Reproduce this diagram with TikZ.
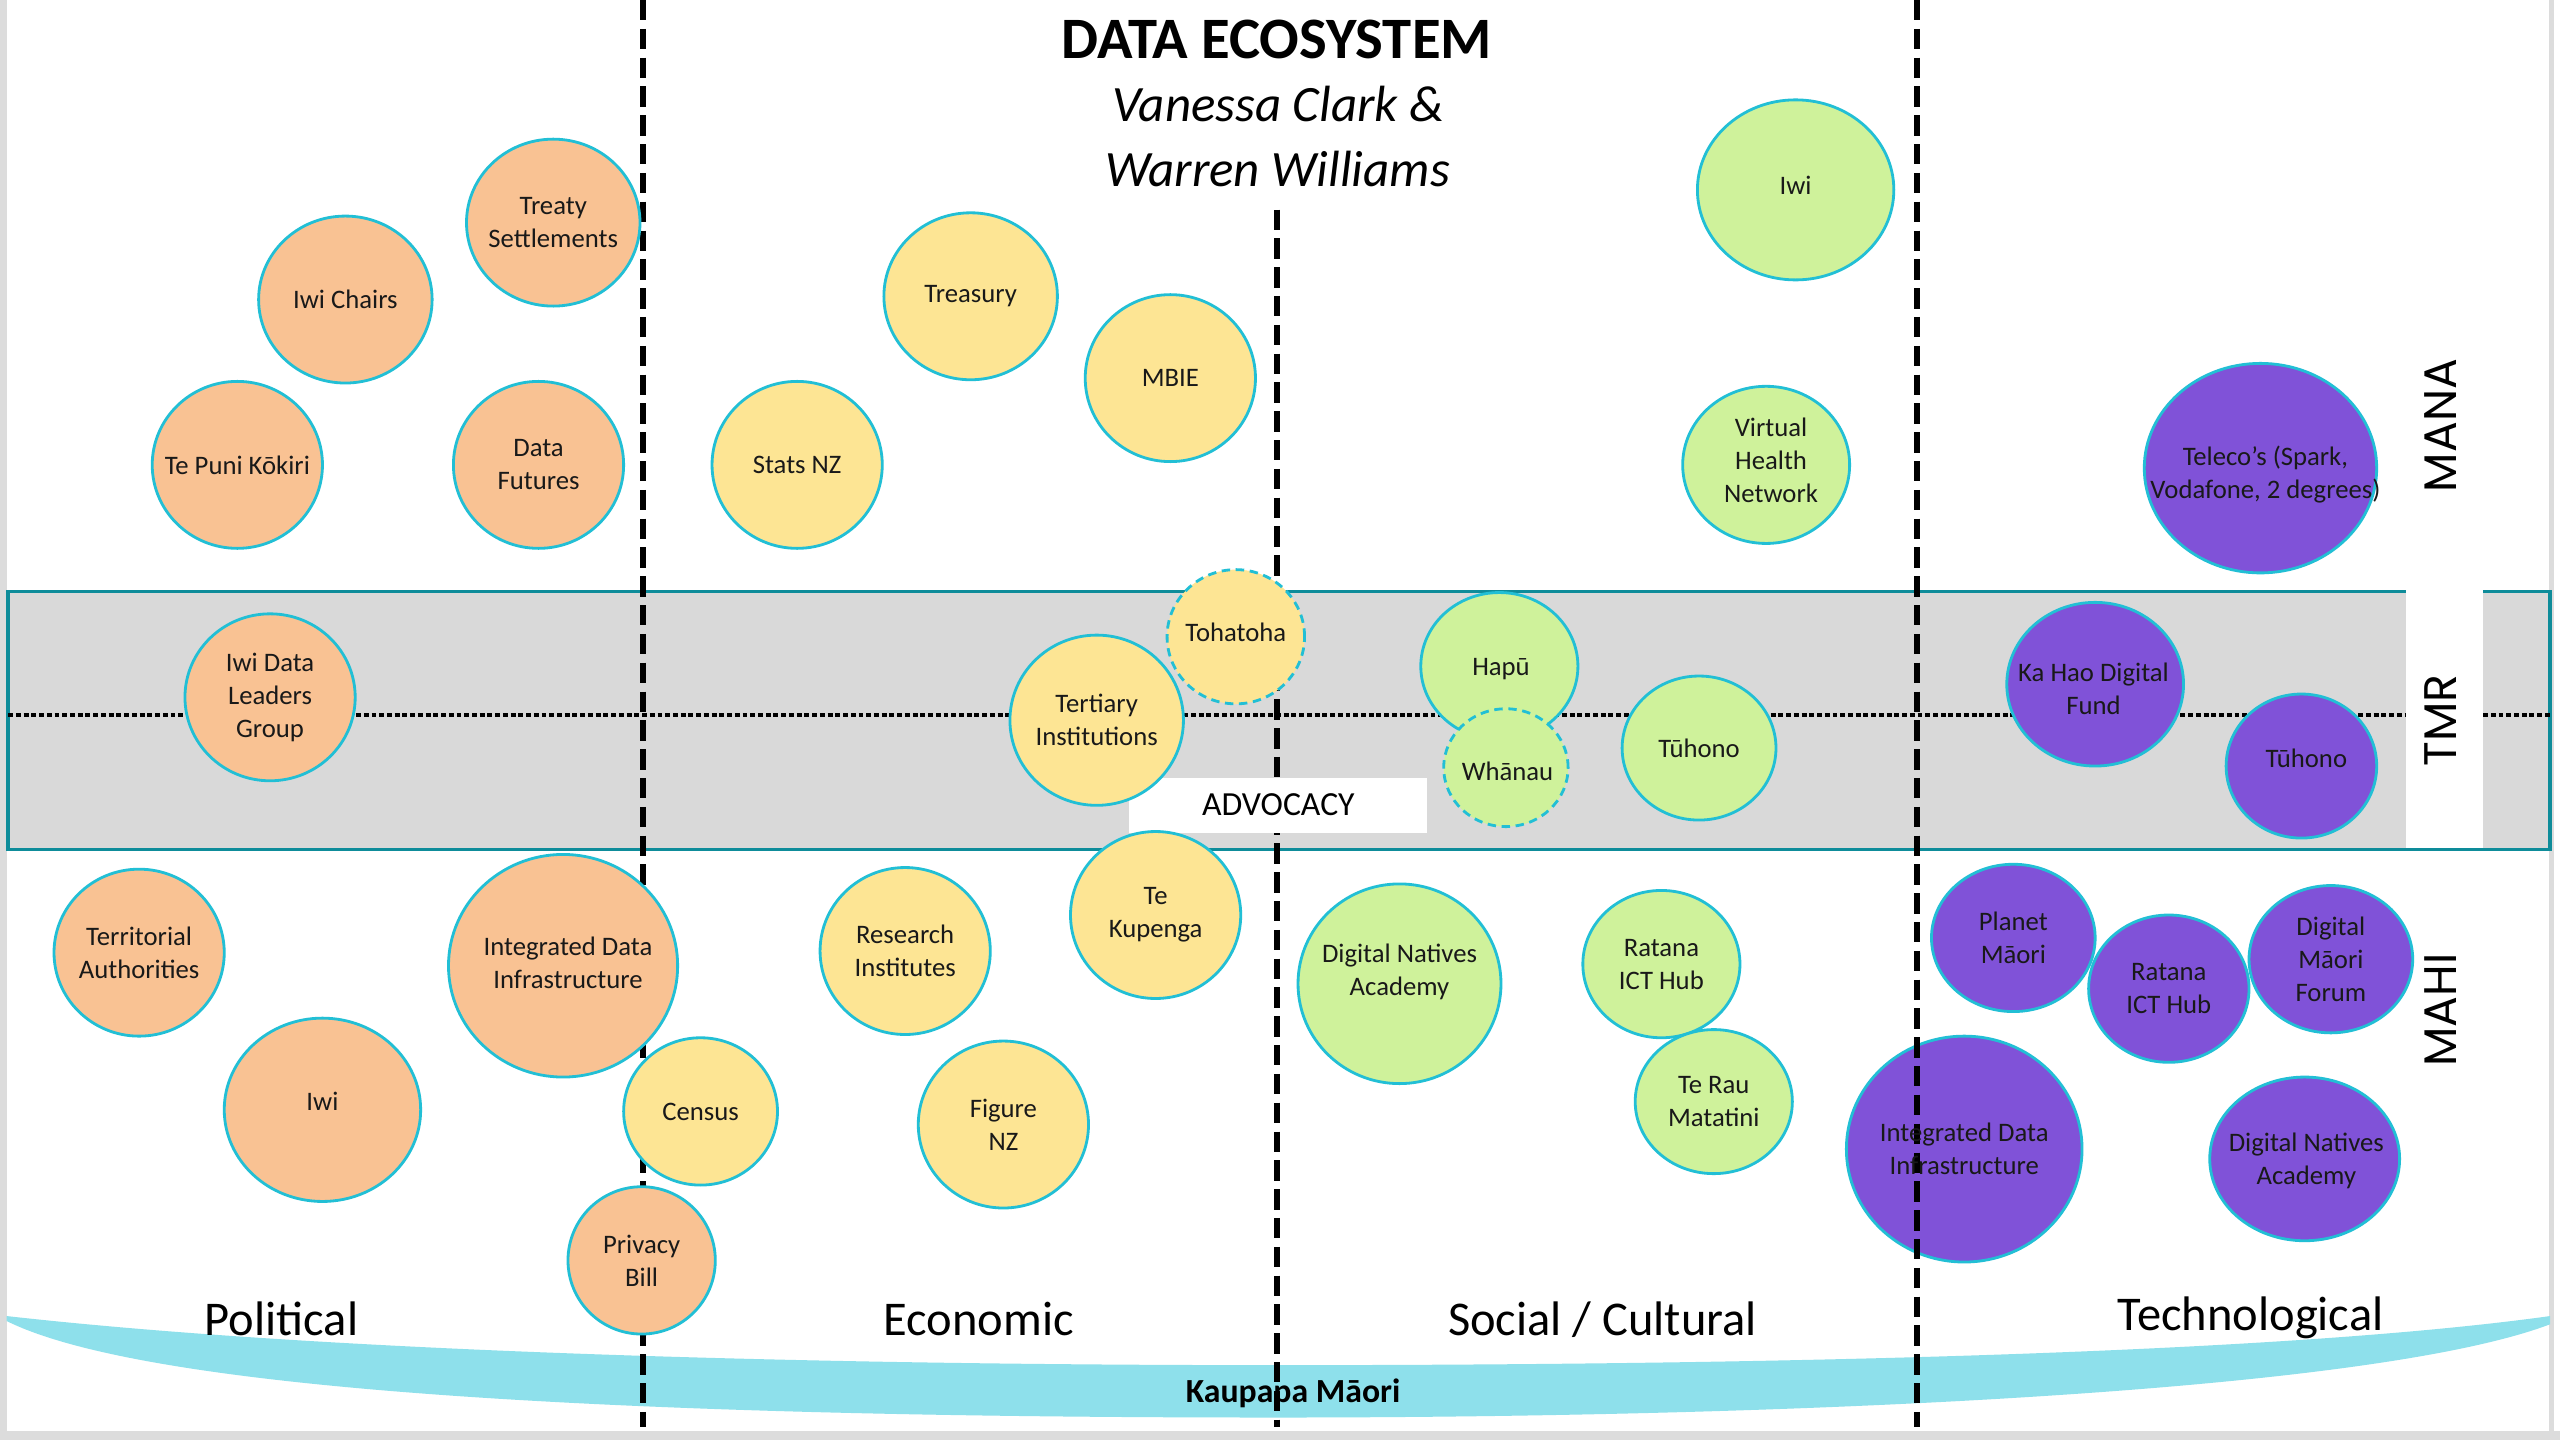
\documentclass[tikz,border=0pt]{standalone}
\usepackage{fontspec}
\setmainfont{Carlito}
\newfontfamily\sidefont{Poppins}
\usetikzlibrary{shapes.geometric}
\definecolor{orng}{HTML}{F9C293}
\definecolor{yel}{HTML}{FDE594}
\definecolor{grn}{HTML}{CFF29B}
\definecolor{purp}{HTML}{8052D8}
\definecolor{bubline}{HTML}{22BFD5}
\definecolor{bandline}{HTML}{0E8C9A}
\definecolor{bandgray}{HTML}{D9D9D9}
\definecolor{kaupapa}{HTML}{8EE0EB}
\definecolor{framegray}{HTML}{DCDCDC}
\tikzset{
  bub/.style={ellipse, draw=bubline, line width=0.8pt, inner sep=0pt},
  po/.style={fill=orng}, ye/.style={fill=yel}, gr/.style={fill=grn}, pu/.style={fill=purp},
  dsh/.style={dash pattern=on 2.4pt off 1.6pt},
  lbl/.style={align=center, font=\fontsize{7.6}{9.4}\selectfont, text=black!90, inner sep=0pt},
  vline/.style={line width=1.6pt, dash pattern=on 5.8pt off 2.4pt},
  hdots/.style={line width=1.2pt, dash pattern=on 1.4pt off 0.8pt},
  cat/.style={anchor=base, font=\fontsize{13.8}{13.8}\selectfont, inner sep=0pt},
  side/.style={rotate=90, font=\sidefont\fontsize{13}{13}\selectfont, inner sep=0pt},
}
\newcommand{\bub}[6]{\node[bub,#2,minimum width={2*#5*0.016368cm},minimum height={2*#6*0.016368cm}] (#1) at (#3,#4) {};}
\newcommand{\blab}[2]{\node[lbl] (#1-t) at (#1) {#2};}
\begin{document}
\begin{tikzpicture}[x=0.016368cm, y=-0.016368cm]
\useasboundingbox (0,0) rectangle (1564,879.75);
% frame
\fill[framegray] (0,0) rectangle (1564,879.75);
\fill[white] (4,0) rectangle (1557.5,874);
\fill[white] (1560,0) rectangle (1564,874);
% TMR band
\draw[fill=bandgray, draw=bandline, line width=1pt] (5,361.5) rectangle (1558,519);
\fill[white] (1470,359.5) rectangle (1517,518);
\draw[hdots] (5,437) -- (1470,437);
\draw[hdots] (1517,437) -- (1558,437);
% Kaupapa band
\fill[kaupapa] (4,804) .. controls (200,826) and (500,834) .. (780,834)
  .. controls (1100,834) and (1400,826) .. (1558,804) -- (1558,809)
  .. controls (1450,850) and (1100,866) .. (780,866)
  .. controls (450,866) and (100,855) .. (4,807) -- cycle;
% left and middle dividers
\coordinate (l1) at (393,0); \coordinate (l2) at (393,872);
\coordinate (m1) at (780,128); \coordinate (m2) at (780,872);
\coordinate (r1) at (1171,0); \coordinate (r2) at (1171,872);
\draw[vline] (l1) -- (l2);
\draw[vline] (m1) -- (m2);
% advocacy box
\node[fill=white, minimum width={182*0.016368cm}, minimum height={34*0.016368cm}, inner sep=0pt] (advbox) at (781,492) {};
% bubbles
\bub{ts}{po}{338}{136}{53}{51}
\bub{ic}{po}{211}{183}{53}{51}
\bub{tpk}{po}{145}{284}{52}{51}
\bub{df}{po}{329}{284}{52}{51}
\bub{idl}{po}{165}{426}{52}{51}
\bub{ta}{po}{85}{582}{52}{51}
\bub{idio}{po}{344}{590}{70}{68}
\bub{iwio}{po}{197}{678}{60}{56}
\bub{cen}{ye}{428}{679}{47}{45}
\bub{pb}{po}{392}{770}{45}{45}
\bub{tre}{ye}{593}{181}{53}{51}
\bub{mbie}{ye}{715}{231}{52}{51}
\bub{snz}{ye}{487}{284}{52}{51}
\bub{toh}{ye,dsh}{755}{389}{42}{41}
\bub{ter}{ye}{670}{440}{53}{52}
\bub{tk}{ye}{706}{559}{52}{51}
\bub{ri}{ye}{553}{581}{52}{51}
\bub{fnz}{ye}{613}{687}{52}{51}
\bub{iwig}{gr}{1097}{116}{60}{55}
\bub{vhn}{gr}{1079}{284}{51}{48}
\bub{hapu}{gr}{916}{407}{48}{45}
\bub{whanau}{gr,dsh}{920}{469}{38}{36}
\bub{tuh}{gr}{1038}{457}{47}{44}
\bub{dnag}{gr}{855}{601}{62}{61}
\bub{rihg}{gr}{1015}{589}{48}{45}
\bub{trm}{gr}{1047}{673}{48}{44}
\bub{tel}{pu}{1381}{286}{71}{64}
\bub{khd}{pu}{1280}{418}{54}{50}
\bub{tuhp}{pu}{1406}{468}{46}{44}
\bub{pm}{pu}{1230}{573}{50}{45}
\bub{rihp}{pu}{1325}{604}{49}{45}
\bub{dmf}{pu}{1424}{586}{50}{45}
\bub{idip}{pu}{1200}{702}{72}{69}
\bub{dnap}{pu}{1408}{708}{58}{50}
% right divider on top
\draw[vline] (r1) -- (r2);
% labels
\blab{ts}{Treaty\\Settlements}
\blab{ic}{Iwi Chairs}
\blab{tpk}{Te Puni Kōkiri}
\blab{df}{Data\\Futures}
\blab{idl}{Iwi Data\\Leaders\\Group}
\blab{ta}{Territorial\\Authorities}
\node[lbl] (idio-t) at (347,588) {Integrated Data\\Infrastructure};
\node[lbl] (iwio-t) at (197,673) {Iwi};
\blab{cen}{Census}
\blab{pb}{Privacy\\Bill}
\blab{tre}{Treasury}
\blab{mbie}{MBIE}
\blab{snz}{Stats NZ}
\node[lbl] (toh-t) at (755,386) {Tohatoha};
\blab{ter}{Tertiary\\Institutions}
\blab{tk}{Te\\Kupenga}
\blab{ri}{Research\\Institutes}
\blab{fnz}{Figure\\NZ}
\node[lbl] (iwig-t) at (1097,113) {Iwi};
\node[lbl] (vhn-t) at (1082,281) {Virtual\\Health\\Network};
\node[lbl] (hapu-t) at (917,409) {Hapū};
\node[lbl] (whanau-t) at (921,471) {Whānau};
\blab{tuh}{Tūhono}
\node[lbl] (dnag-t) at (855,594) {Digital Natives\\Academy};
\blab{rihg}{Ratana\\ICT Hub}
\blab{trm}{Te Rau\\Matatini}
\node[lbl] (tel-t) at (1384,290) {Teleco’s (Spark,\\Vodafone, 2 degrees)};
\node[lbl] (khd-t) at (1279,421) {Ka Hao Digital\\Fund};
\node[lbl] (tuhp-t) at (1409,463) {Tūhono};
\blab{pm}{Planet\\Māori}
\blab{rihp}{Ratana\\ICT Hub}
\blab{dmf}{Digital\\Māori\\Forum}
\blab{idip}{Integrated Data\\Infrastructure}
\node[lbl] (dnap-t) at (1409,709) {Digital Natives\\Academy};
% advocacy text
\node[anchor=base, inner sep=0pt, font=\fontsize{9.6}{9.6}\selectfont] (adv) at (781,498.5) {ADVOCACY};
% title
\node[anchor=base, inner sep=0pt, font=\bfseries\fontsize{16.7}{16.7}\selectfont] (title) at (780,36) {DATA ECOSYSTEM};
\node[anchor=base, inner sep=0pt, font=\itshape\fontsize{14.5}{14.5}\selectfont] (auth1) at (781,74.5) {Vanessa Clark \&};
\node[anchor=base, inner sep=0pt, font=\itshape\fontsize{14.5}{14.5}\selectfont] (auth2) at (780.5,114) {Warren Williams};
% categories
\node[cat] (pol) at (172,816) {Political};
\node[cat] (eco) at (598,816) {Economic};
\node[cat] (soc) at (979,816) {Social / Cultural};
\node[cat] (tec) at (1375,813) {Technological};
\node[anchor=base, inner sep=0pt, font=\bfseries\fontsize{9.6}{9.6}\selectfont] (kau) at (790,857) {Kaupapa Māori};
% side labels
\node[side] (mana) at (1491,260) {MANA};
\node[side] (tmr) at (1491,440) {TMR};
\node[side] (mahi) at (1491,617) {MAHI};
\end{tikzpicture}
\end{document}
